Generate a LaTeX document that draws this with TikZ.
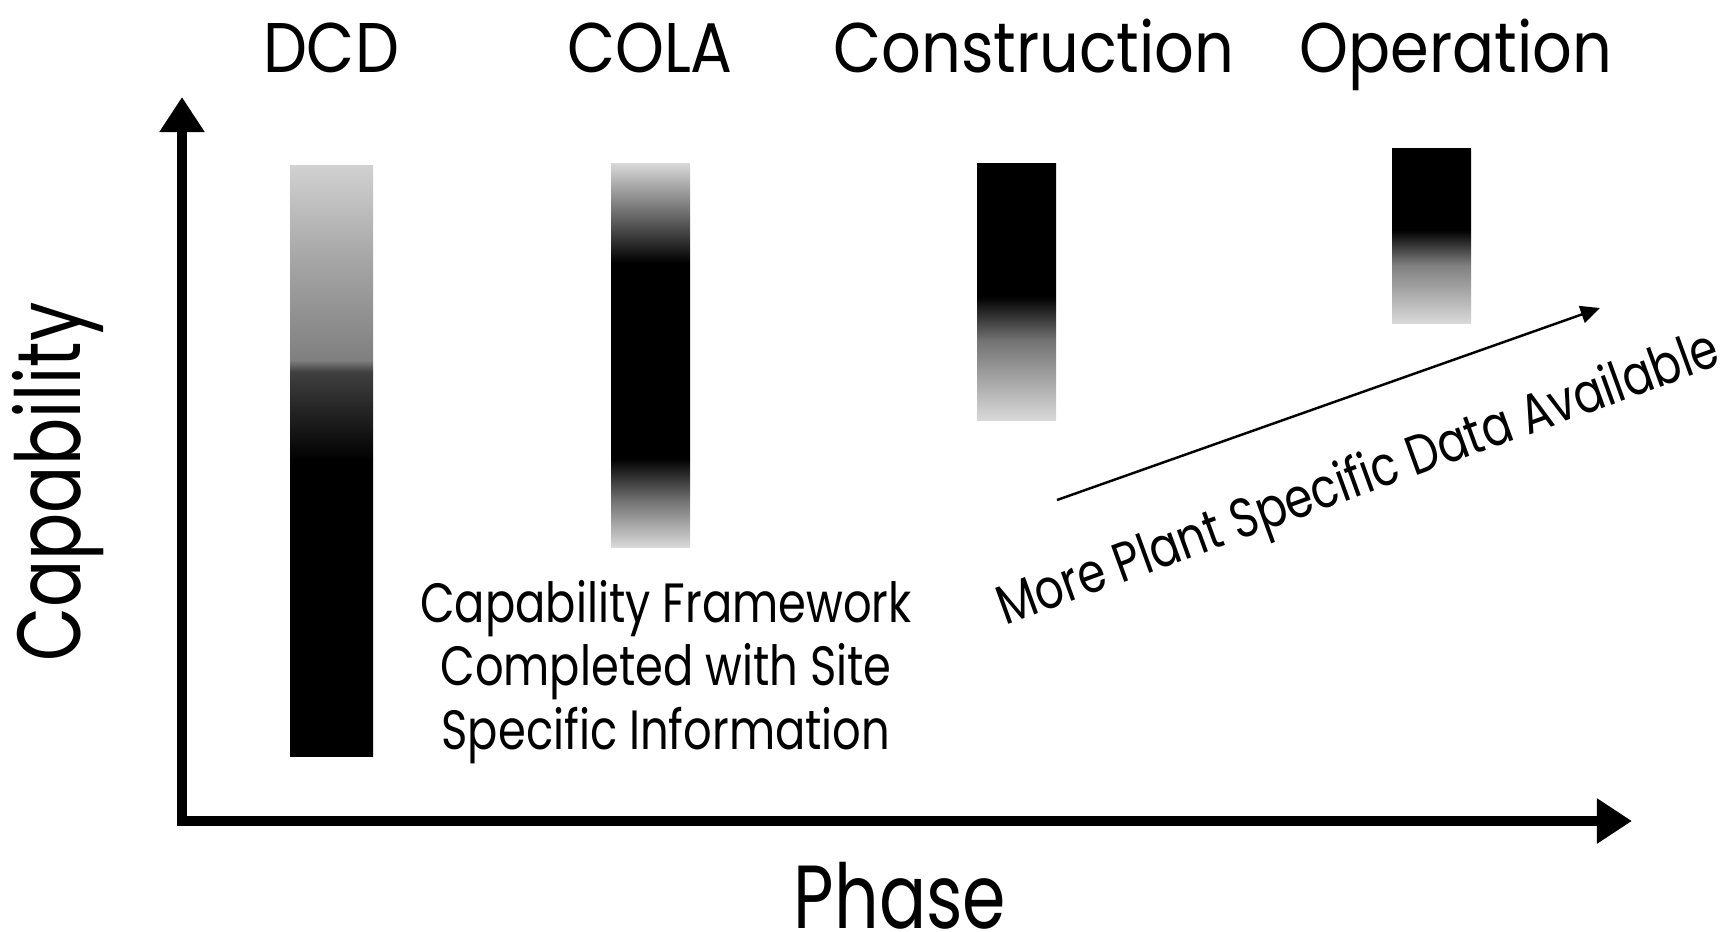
\documentclass[tikz,border=0pt]{standalone}
\usepackage{fontspec}
\setmainfont{Poppins}
\newfontfamily\headfont[FakeStretch=0.885]{Poppins}
\newfontfamily\notefont[FakeStretch=0.81]{Poppins}
\newfontfamily\labelfont[FakeStretch=0.78]{Poppins}
\usetikzlibrary{arrows.meta,positioning}

\pgfdeclareverticalshading{dcdfade}{100bp}{color(0bp)=(black); color(25bp)=(black); color(50bp)=(black); color(57.5bp)=(black!75); color(58.5bp)=(black!50); color(67bp)=(black!35); color(75bp)=(black!18); color(100bp)=(black!18)}
\pgfdeclareverticalshading{colafade}{100bp}{color(0bp)=(black!15); color(25bp)=(black!15); color(31bp)=(black!55); color(36.5bp)=(black); color(62bp)=(black); color(66.5bp)=(black!70); color(75bp)=(black!15); color(100bp)=(black!15)}
\pgfdeclareverticalshading{constrfade}{100bp}{color(0bp)=(black!15); color(25bp)=(black!15); color(40.5bp)=(black!55); color(49bp)=(black); color(75bp)=(black); color(100bp)=(black)}
\pgfdeclareverticalshading{operfade}{100bp}{color(0bp)=(black!15); color(25bp)=(black!15); color(41.5bp)=(black!50); color(51.5bp)=(black); color(75bp)=(black); color(100bp)=(black)}

\tikzset{
	heading/.style={anchor=base,font=\headfont\fontsize{40}{48}\selectfont},
	axislabel/.style={anchor=base,font=\labelfont\fontsize{51}{60}\selectfont},
	remark/.style={align=center,font=\notefont\fontsize{31.5}{36}\selectfont},
	axis/.style={line width=6.2pt,line join=miter,{Triangle[length=20pt,width=24.5pt]}-{Triangle[length=20pt,width=24.5pt]}},
	trend/.style={line width=1.4pt,-{Triangle[length=11pt,width=10pt]}}
}

\begin{document}
\begin{tikzpicture}[x=0.02cm,y=-0.02cm]
	\useasboundingbox (0,0) rectangle (1731,931);
	\coordinate (ytip) at (182,97);
	\coordinate (origin) at (182,821);
	\coordinate (xtip) at (1632,821);
	\draw[axis] (ytip) -- (origin) -- (xtip);
	\node[axislabel] (phase) at (900,928) {Phase};
	\node[axislabel,rotate=90] (capability) at (80,482) {Capability};
	\node[heading] (dcd) at (331,72) {DCD};
	\node[heading] (cola) at (650,72) {COLA};
	\node[heading] (construction) at (1034,72) {Construction};
	\node[heading] (operation) at (1456,72) {Operation};
	\shade[shading=dcdfade] (290,165) rectangle (373,756);
	\shade[shading=colafade] (611,163) rectangle (690,547);
	\shade[shading=constrfade] (977,163) rectangle (1056,420);
	\shade[shading=operfade] (1392,148) rectangle (1471,323);
	\node[remark] (framework) at (666,672) {Capability Framework\\Completed with Site\\Specific Information};
	\coordinate (trendstart) at (1057,500);
	\coordinate (trendend) at (1600,308);
	\draw[trend] (trendstart) -- (trendend);
	\node[remark,anchor=base,rotate=20] (moredata) at (1364,495) {More Plant Specific Data Available};
\end{tikzpicture}
\end{document}
